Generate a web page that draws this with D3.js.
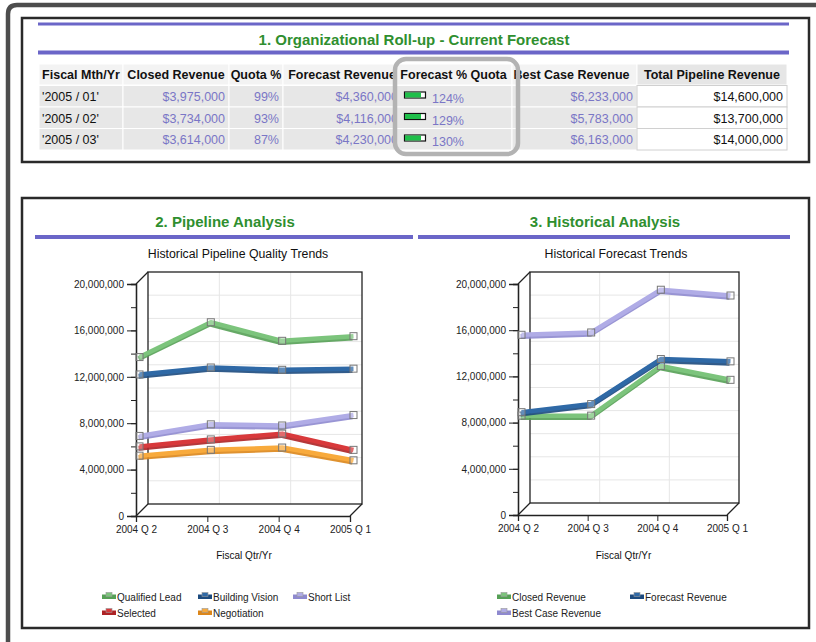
<!DOCTYPE html>
<html>
<head>
<meta charset="utf-8">
<script src="https://cdn.jsdelivr.net/npm/d3@7"></script>
<style>
body{margin:0;background:#fff;}
svg{display:block;font-family:"Liberation Sans",Arial,sans-serif;}
</style>
</head>
<body>
<script>
//wrap everything in a self-executing anonymous function
(function(){

//table data
var tableHeaders = ["Fiscal Mth/Yr", "Closed Revenue", "Quota %", "Forecast Revenue", "Forecast % Quota", "Best Case Revenue", "Total Pipeline Revenue"];
var fiscalMonths = ["'2005 / 01'", "'2005 / 02'", "'2005 / 03'"];
var closedRevenue = [3975000, 3734000, 3614000];
var quotaPct = [99, 93, 87];
var forecastRevenue = [4360000, 4116000, 4230000];
var forecastPctQuota = [124, 129, 130];
var bestCaseRevenue = [6233000, 5783000, 6163000];
var totalPipeline = [14600000, 13700000, 14000000];

//chart data
var quarters = ["2004 Q 2", "2004 Q 3", "2004 Q 4", "2005 Q 1"];
var yTicks = [0, 4000000, 8000000, 12000000, 16000000, 20000000];
var pipelineNames = ["Qualified Lead", "Building Vision", "Short List", "Selected", "Negotiation"];
var qualifiedLead = [13400000, 16400000, 14800000, 15200000];
var buildingVision = [11900000, 12500000, 12300000, 12400000];
var shortList = [6600000, 7600000, 7500000, 8400000];
var selected = [5700000, 6300000, 6800000, 5400000];
var negotiation = [4900000, 5400000, 5600000, 4500000];
var historyNames = ["Closed Revenue", "Forecast Revenue", "Best Case Revenue"];
var closedHist = [8300000, 8300000, 12600000, 11400000];
var forecastHist = [8600000, 9300000, 13200000, 13000000];
var bestCaseHist = [15300000, 15500000, 19200000, 18700000];

//colours
var green = ["#7cc47c", "#55a055"],
    blue = ["#2f69a6", "#1c4a7e"],
    lavender = ["#b0ace6", "#8e89cf"],
    red = ["#d8393b", "#ad2225"],
    orange = ["#f8aa3c", "#dc861a"];
var purpleRule = "#6b66c8",
    titleGreen = "#2f8f2f",
    linkColor = "#7a76c6";

var width = 816, height = 642;

var svg = d3.select("body")
    .append("svg")
    .attr("width", width)
    .attr("height", height);

//outer frame, running off the right and bottom
svg.append("path")
    .attr("d", "M818,5 H17 Q8,5 8,14 V650")
    .attr("fill", "none")
    .attr("stroke", "#4d4d4d")
    .attr("stroke-width", 4.5);

//panel boxes
svg.append("rect")
    .attr("x", 22).attr("y", 18)
    .attr("width", 787).attr("height", 144)
    .attr("fill", "#fff")
    .attr("stroke", "#2a2a2a")
    .attr("stroke-width", 2.5);
svg.append("rect")
    .attr("x", 22).attr("y", 198)
    .attr("width", 787).attr("height", 430)
    .attr("fill", "#fff")
    .attr("stroke", "#2a2a2a")
    .attr("stroke-width", 2.5);

setTable();
setSectionTitles();

setChart({
    x0: 136, x1: 350, yBase: 516, yTop: 284,
    title: "Historical Pipeline Quality Trends",
    titleX: 238,
    series: [
        {name: pipelineNames[0], values: qualifiedLead, color: green},
        {name: pipelineNames[1], values: buildingVision, color: blue},
        {name: pipelineNames[2], values: shortList, color: lavender},
        {name: pipelineNames[3], values: selected, color: red},
        {name: pipelineNames[4], values: negotiation, color: orange}
    ],
    legendX: [102, 198, 293, 102, 198],
    legendY: [597, 597, 597, 613, 613]
});

setChart({
    x0: 518, x1: 727, yBase: 515, yTop: 284,
    title: "Historical Forecast Trends",
    titleX: 616,
    series: [
        {name: historyNames[2], values: bestCaseHist, color: lavender},
        {name: historyNames[0], values: closedHist, color: green},
        {name: historyNames[1], values: forecastHist, color: blue}
    ],
    legendX: [497, 630, 497],
    legendY: [597, 597, 613],
    legendOrder: [1, 2, 0]
});

//roll-up table
function setTable(){
    //purple rules + title
    svg.append("rect").attr("x", 38).attr("y", 22.5).attr("width", 751).attr("height", 3).attr("fill", purpleRule);
    svg.append("rect").attr("x", 38).attr("y", 50.5).attr("width", 751).attr("height", 4).attr("fill", purpleRule);
    svg.append("text")
        .attr("x", 414).attr("y", 45)
        .attr("text-anchor", "middle")
        .attr("fill", titleGreen)
        .style("font-size", "15px")
        .style("font-weight", "bold")
        .text("1. Organizational Roll-up - Current Forecast");

    var colX = [39, 123, 229, 283, 395, 512, 637, 787];
    var headerY = 64, headerH = 21, rowY = [85.5, 107, 128.5], rowH = 21.5;
    var money = d3.format("$,");

    //clip the forecast revenue column, the text runs past its right edge
    svg.append("clipPath")
        .attr("id", "clipForecast")
        .append("rect")
        .attr("x", colX[3]).attr("y", headerY)
        .attr("width", colX[4] - colX[3] - 1).attr("height", 90);

    var rows = fiscalMonths.map(function(m, i){
        return [m, money(closedRevenue[i]), quotaPct[i] + "%", money(forecastRevenue[i]),
            forecastPctQuota[i], money(bestCaseRevenue[i]), money(totalPipeline[i])];
    });

    var table = svg.append("g").attr("class", "table");

    //header cells
    table.selectAll(".hcell")
        .data(tableHeaders)
        .enter()
        .append("rect")
        .attr("x", function(d, i){ return colX[i]; })
        .attr("y", headerY)
        .attr("width", function(d, i){ return colX[i + 1] - colX[i]; })
        .attr("height", headerH)
        .attr("fill", function(d, i){ return i == 6 ? "#e6e6e6" : "#f3f3f3"; })
        .attr("stroke", "#fff")
        .attr("stroke-width", 1);

    table.selectAll(".htext")
        .data(tableHeaders)
        .enter()
        .append("text")
        .attr("x", function(d, i){ return (colX[i] + colX[i + 1]) / 2 + (i == 3 ? 3 : 0) - (i == 5 ? 3 : 0); })
        .attr("y", headerY + 15)
        .attr("text-anchor", "middle")
        .attr("clip-path", function(d, i){ return i == 3 ? "url(#clipForecast)" : null; })
        .attr("fill", "#111")
        .style("font-size", "12.5px")
        .style("font-weight", "bold")
        .text(function(d){ return d; });

    //body cells
    rows.forEach(function(row, r){
        var g = table.append("g");
        g.selectAll("rect")
            .data(row)
            .enter()
            .append("rect")
            .attr("x", function(d, i){ return colX[i]; })
            .attr("y", rowY[r])
            .attr("width", function(d, i){ return colX[i + 1] - colX[i]; })
            .attr("height", rowH)
            .attr("fill", function(d, i){ return i == 6 ? "#fff" : "#e7e7e7"; })
            .attr("stroke", function(d, i){ return i == 6 ? "#d0d0d0" : "#fff"; })
            .attr("stroke-width", 1);

        //plain value cells (the quota bar column is drawn below)
        var cells = row.map(function(v, i){ return {v: v, col: i}; })
            .filter(function(c){ return c.col != 4; });

        g.selectAll("text.val")
            .data(cells)
            .enter()
            .append("text")
            .attr("class", "val")
            .attr("x", function(d){
                if (d.col == 0) return colX[0] + 3;
                if (d.col == 3) return colX[4] + 3;
                return colX[d.col + 1] - 4;
            })
            .attr("y", rowY[r] + 15.5)
            .attr("text-anchor", function(d){ return d.col == 0 ? "start" : "end"; })
            .attr("clip-path", function(d){ return d.col == 3 ? "url(#clipForecast)" : null; })
            .attr("fill", function(d){ return (d.col == 0 || d.col == 6) ? "#111" : linkColor; })
            .style("font-size", "12.5px")
            .text(function(d){ return d.v; });

        //forecast % quota bar icon
        var fq = row[4];
        g.append("rect")
            .attr("x", colX[4] + 9.5).attr("y", rowY[r] + 6.5)
            .attr("width", 21).attr("height", 6)
            .attr("fill", "#fff").attr("stroke", "#111").attr("stroke-width", 1.2);
        g.append("rect")
            .attr("x", colX[4] + 10).attr("y", rowY[r] + 7)
            .attr("width", 16).attr("height", 5)
            .attr("fill", "#1fbf4a");
        g.append("text")
            .attr("x", colX[4] + 37).attr("y", rowY[r] + 17.5)
            .attr("fill", linkColor)
            .style("font-size", "12.5px")
            .text(fq + "%");
    });

    //highlight round the forecast % quota column
    svg.append("rect")
        .attr("x", 395).attr("y", 59)
        .attr("width", 123).attr("height", 95)
        .attr("rx", 11).attr("ry", 11)
        .attr("fill", "none")
        .attr("stroke", "#b3b3b3")
        .attr("stroke-width", 4.5);
}

function setSectionTitles(){
    svg.append("rect").attr("x", 35).attr("y", 235).attr("width", 378).attr("height", 4).attr("fill", purpleRule);
    svg.append("rect").attr("x", 418).attr("y", 235).attr("width", 372).attr("height", 4).attr("fill", purpleRule);
    svg.append("text")
        .attr("x", 225).attr("y", 227)
        .attr("text-anchor", "middle").attr("fill", titleGreen)
        .style("font-size", "15px").style("font-weight", "bold")
        .text("2. Pipeline Analysis");
    svg.append("text")
        .attr("x", 605).attr("y", 227)
        .attr("text-anchor", "middle").attr("fill", titleGreen)
        .style("font-size", "15px").style("font-weight", "bold")
        .text("3. Historical Analysis");
}

//3D-look line chart
function setChart(cfg){
    var depth = 12, shift = 3.5;
    var chart = svg.append("g").attr("class", "chart");

    var x = d3.scalePoint()
        .domain(quarters)
        .range([cfg.x0, cfg.x1]);
    var y = d3.scaleLinear()
        .domain([0, 20000000])
        .range([cfg.yBase, cfg.yTop]);

    //chart title
    chart.append("text")
        .attr("x", cfg.titleX).attr("y", 258)
        .attr("text-anchor", "middle")
        .attr("fill", "#111")
        .style("font-size", "12.3px")
        .text(cfg.title);

    //back wall gridlines
    var minor = d3.range(0, 20000001, 2000000);
    chart.selectAll(".hgrid")
        .data(minor.slice(1, -1))
        .enter()
        .append("line")
        .attr("x1", cfg.x0 + depth).attr("x2", cfg.x1 + depth)
        .attr("y1", function(d){ return y(d) - depth; })
        .attr("y2", function(d){ return y(d) - depth; })
        .attr("stroke", "#e6e6e6");
    chart.selectAll(".vgrid")
        .data(quarters.slice(1, -1))
        .enter()
        .append("line")
        .attr("x1", function(d){ return x(d) + depth; })
        .attr("x2", function(d){ return x(d) + depth; })
        .attr("y1", cfg.yTop - depth).attr("y2", cfg.yBase - depth)
        .attr("stroke", "#e6e6e6");

    //back wall frame and depth edges
    chart.append("rect")
        .attr("x", cfg.x0 + depth).attr("y", cfg.yTop - depth)
        .attr("width", cfg.x1 - cfg.x0).attr("height", cfg.yBase - cfg.yTop)
        .attr("fill", "none").attr("stroke", "#222").attr("stroke-width", 1.3);
    [[cfg.x0, cfg.yTop], [cfg.x0, cfg.yBase], [cfg.x1, cfg.yBase]].forEach(function(p){
        chart.append("line")
            .attr("x1", p[0]).attr("y1", p[1])
            .attr("x2", p[0] + depth).attr("y2", p[1] - depth)
            .attr("stroke", "#222").attr("stroke-width", 1.3);
    });

    //y axis: minor ticks, then labelled major ticks
    chart.append("g")
        .attr("transform", "translate(" + cfg.x0 + ",0)")
        .call(d3.axisLeft(y).tickValues(minor).tickSize(5).tickFormat(""))
        .call(styleAxis);
    chart.append("g")
        .attr("transform", "translate(" + cfg.x0 + ",0)")
        .call(d3.axisLeft(y).tickValues(yTicks).tickSize(9).tickPadding(3).tickFormat(d3.format(",")))
        .call(styleAxis);

    //x axis
    chart.append("g")
        .attr("transform", "translate(0," + cfg.yBase + ")")
        .call(d3.axisBottom(x).tickSize(6).tickPadding(4))
        .call(styleAxis);

    chart.append("text")
        .attr("x", (cfg.x0 + cfg.x1) / 2 + 1).attr("y", 559)
        .attr("text-anchor", "middle")
        .attr("fill", "#111")
        .style("font-size", "10px")
        .text("Fiscal Qtr/Yr");

    //series lines
    var line = d3.line()
        .x(function(d, i){ return x(quarters[i]) + shift; })
        .y(function(d){ return y(d) - shift; });

    cfg.series.forEach(function(s){
        chart.append("path")
            .datum(s.values)
            .attr("d", line)
            .attr("transform", "translate(-1,1.8)")
            .attr("fill", "none")
            .attr("stroke", s.color[1])
            .attr("stroke-width", 5)
            .attr("stroke-linejoin", "round")
            .attr("opacity", 0.9);
        chart.append("path")
            .datum(s.values)
            .attr("d", line)
            .attr("fill", "none")
            .attr("stroke", s.color[0])
            .attr("stroke-width", 4.5)
            .attr("stroke-linejoin", "round");
        chart.selectAll(null)
            .data(s.values)
            .enter()
            .append("rect")
            .attr("x", function(d, i){ return x(quarters[i]) + shift - 3.5; })
            .attr("y", function(d){ return y(d) - shift - 3.5; })
            .attr("width", 7).attr("height", 7)
            .attr("fill", "rgba(255,255,255,0.25)")
            .attr("stroke", "#777")
            .attr("stroke-width", 1);
    });

    //legend
    var order = cfg.legendOrder || d3.range(cfg.series.length);
    order.forEach(function(k, j){
        var s = cfg.series[k];
        var lx = cfg.legendX[j], ly = cfg.legendY[j];
        var item = chart.append("g").attr("transform", "translate(" + lx + "," + ly + ")");
        item.append("rect")
            .attr("x", 0).attr("y", -2.5).attr("width", 14).attr("height", 4.5)
            .attr("fill", s.color[1]);
        item.append("rect")
            .attr("x", 4).attr("y", -4.5).attr("width", 6).attr("height", 4)
            .attr("fill", s.color[0]).attr("stroke", "#999").attr("stroke-width", 0.6);
        item.append("text")
            .attr("x", 15).attr("y", 3.5)
            .attr("fill", "#222")
            .style("font-size", "10px")
            .text(s.name);
    });
}

function styleAxis(g){
    g.select(".domain").attr("stroke", "#222").attr("stroke-width", 1.3);
    g.selectAll(".tick line").attr("stroke", "#222");
    g.selectAll(".tick text")
        .attr("fill", "#222")
        .style("font-size", "10px")
        .style("font-family", "'Liberation Sans', Arial, sans-serif");
}

})();
</script>
</body>
</html>
